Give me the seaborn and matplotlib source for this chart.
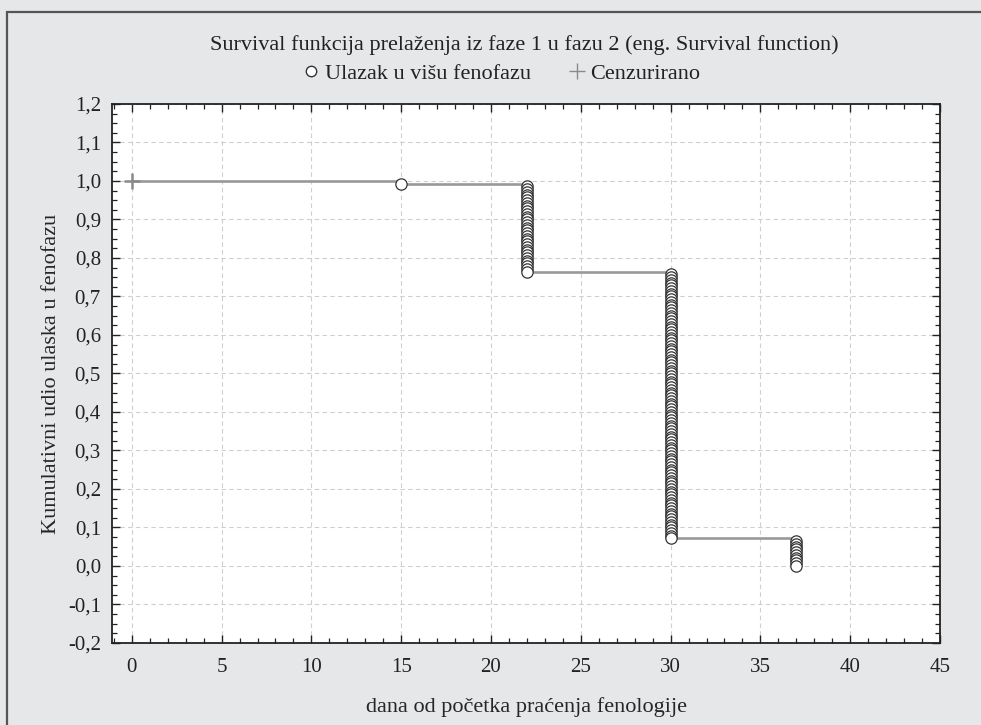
import numpy as np
import pandas as pd
import matplotlib
matplotlib.use("Agg")
import matplotlib.pyplot as plt
from matplotlib.patches import Rectangle
from matplotlib.lines import Line2D
from matplotlib.ticker import MultipleLocator
import seaborn as sns

# Data
n_total = 140
event_times = [15, 22, 30, 37]
event_counts = [1, 32, 97, 10]
censored_times = [0]
censored_values = [1.0]

x_ticks = [0, 5, 10, 15, 20, 25, 30, 35, 40, 45]
y_ticks = [-0.2, -0.1, 0.0, 0.1, 0.2, 0.3, 0.4, 0.5, 0.6, 0.7, 0.8, 0.9, 1.0, 1.1, 1.2]
y_tick_labels = ['-0,2', '-0,1', '0,0', '0,1', '0,2', '0,3', '0,4', '0,5', '0,6',
                 '0,7', '0,8', '0,9', '1,0', '1,1', '1,2']

# Kaplan-Meier style points: one circle per event
remaining = n_total
pts_x, pts_y = [], []
step_x, step_y = [0], [1.0]
for t, c in zip(event_times, event_counts):
    for _ in range(c):
        remaining -= 1
        pts_x.append(t)
        pts_y.append(remaining / n_total)
    step_x.append(t)
    step_y.append(remaining / n_total)

events = pd.DataFrame({'dan': pts_x, 'udio': pts_y})
steps = pd.DataFrame({'dan': step_x, 'udio': step_y})

sns.set_theme(style='ticks')
plt.rcParams['font.family'] = ['Liberation Serif', 'DejaVu Serif']
plt.rcParams['text.color'] = '#222222'

bg = '#e6e7e9'
fig = plt.figure(figsize=(9.81, 7.25), dpi=100, facecolor=bg)
ax = fig.add_axes([0.1142, 0.1131, 0.8440, 0.7435])
ax.set_facecolor('white')

# outer frame
fig.patches.append(Rectangle((7 / 981, -0.1), 1.2, 1 - 12 / 725 + 0.1,
                             transform=fig.transFigure, fill=False,
                             edgecolor='#555555', linewidth=1.6))

sns.lineplot(data=steps, x='dan', y='udio', drawstyle='steps-post',
             estimator=None, sort=False, color='#999999', linewidth=1.9,
             ax=ax, zorder=3)
sns.scatterplot(data=events, x='dan', y='udio', marker='o', s=66,
                facecolor='white', edgecolor='#333333', linewidth=0.9,
                ax=ax, zorder=4)
ax.plot(censored_times, censored_values, marker='+', linestyle='none',
        color='#8a8a8a', markersize=12, markeredgewidth=1.8, zorder=4)

ax.set_xlim(-1.1, 45)
ax.set_ylim(-0.2, 1.2)
ax.set_xticks(x_ticks)
ax.set_xticklabels([str(v) for v in x_ticks])
ax.set_yticks(y_ticks)
ax.set_yticklabels(y_tick_labels)
ax.xaxis.set_minor_locator(MultipleLocator(1))
ax.yaxis.set_minor_locator(MultipleLocator(0.025))
ax.tick_params(which='both', direction='in', top=True, right=True,
               color='#222222', labelsize=15, labelcolor='#222222')
ax.tick_params(which='major', length=6, width=1.0, pad=8)
ax.tick_params(axis='x', which='major', pad=11)
ax.tick_params(which='minor', length=3.5, width=0.9)

ax.grid(True, which='major', color='#cfcfcf', linestyle=(0, (4, 3)), linewidth=0.8)
ax.set_axisbelow(True)
for sp in ax.spines.values():
    sp.set_color('#222222')
    sp.set_linewidth(1.3)

ax.set_xlabel('dana od početka praćenja fenologije', fontsize=16, labelpad=14)
ax.set_ylabel('Kumulativni udio ulaska u fenofazu', fontsize=16, labelpad=5)

fig.text(0.534, 0.938, 'Survival funkcija prelaženja iz faze 1 u fazu 2 (eng. Survival function)',
         ha='center', va='center', fontsize=16)

handles = [
    Line2D([], [], marker='o', linestyle='none', markerfacecolor='white',
           markeredgecolor='#333333', markersize=7.5, markeredgewidth=1.0),
    Line2D([], [], marker='+', linestyle='none', color='#8a8a8a',
           markersize=11, markeredgewidth=1.0),
]
fig.legend(handles, ['Ulazak u višu fenofazu', 'Cenzurirano'], loc='center',
           bbox_to_anchor=(0.51, 0.899), ncol=2, frameon=False, fontsize=16,
           handletextpad=0.1, columnspacing=1.6, handlelength=1.0)

fig.savefig('out.png', dpi=100, facecolor=bg)
